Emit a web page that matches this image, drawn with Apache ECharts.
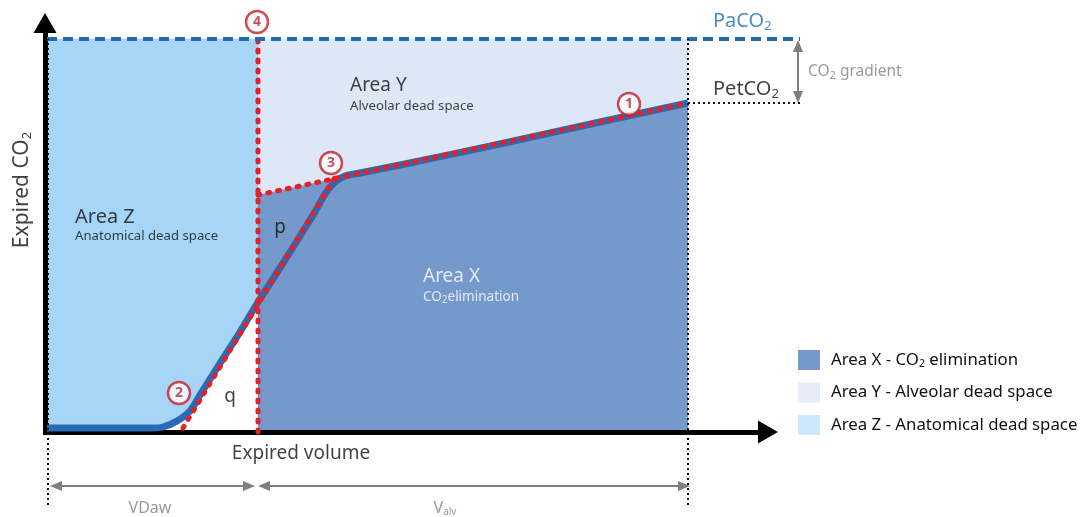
<!DOCTYPE html>
<html><head><meta charset="utf-8">
<script src="https://cdn.jsdelivr.net/npm/echarts@6/dist/echarts.min.js"></script>
<style>html,body{margin:0;padding:0;background:#fff}#c{width:1083px;height:517px}</style>
</head><body><div id="c"></div>
<script>
// ---- data (volume / CO2 in drawing units) ----
const curveVolume = [0, 60, 105, 116, 130, 143, 153, 170, 193, 211, 233, 253, 268, 278, 288, 298, 313, 353, 453, 553, 641];
const curveCO2    = [4, 4, 4, 5, 11, 21, 37, 64, 100, 130, 164, 196, 220, 238, 250, 256, 259, 267, 288, 310, 329];
const vdAirway = 211;        // end of anatomical dead space (VDaw)
const expEnd = 641;          // end of expiration
const paCO2 = 393;           // arterial CO2 level
const petCO2 = 329;          // end-tidal CO2 level
const phase3Start = 237;     // phase III back-extrapolated to VDaw
const phase2Volume = [136, 290];
const phase2CO2 = [4, 258];
const markerNumbers = ['1', '2', '3', '4'];
const markerVolume = [582, 132, 284, 210];
const markerCO2 = [328, 39, 269, 410];
const legendNames = ['Area X - CO2 elimination', 'Area Y - Alveolar dead space', 'Area Z - Anatomical dead space'];

const FONT = "'Noto Sans', 'Open Sans', sans-serif";
const BLUE = '#1f6db5', RED = '#e0232b', GRAY = '#7f7f7f', INK = '#111111';
const curve = curveVolume.map((v, i) => [v, curveCO2[i]]);
const curveLeft = curve.filter(p => p[0] <= vdAirway);

const base = {type: 'line', symbol: 'none', silent: true, animation: false};
const area = (name, data, color, z) => Object.assign({}, base, {
  name, data, z, lineStyle: {width: 0, opacity: 0}, itemStyle: {color}, areaStyle: {color, opacity: 1}
});
const line = (data, style, z) => Object.assign({}, base, {data, z, lineStyle: style});

function sub(color, size, pad) { return {s: {fontSize: size, color: color, fontFamily: FONT, padding: [pad, 0, 0, 0]}}; }
function L(x, y, fmt, o) {
  return {value: [x, y], label: Object.assign({formatter: fmt, fontFamily: FONT, align: 'left', verticalAlign: 'middle'}, o)};
}
const labelItems = [
  L(666, 411, 'PaCO{s|2}', {fontSize: 20, color: BLUE, rich: sub(BLUE, 13, 10)}),
  L(666, 343, 'PetCO{s|2}', {fontSize: 20, color: INK, rich: sub(INK, 13, 10)}),
  L(761, 360, 'CO{s|2} gradient', {fontSize: 15.5, color: GRAY, rich: sub(GRAY, 11, 7)}),
  L(303, 346, 'Area Y', {fontSize: 19, color: INK}),
  L(303, 326, 'Alveolar dead space', {fontSize: 13.2, color: INK}),
  L(28, 215, 'Area Z', {fontSize: 20, color: INK}),
  L(28, 196, 'Anatomical dead space', {fontSize: 13.2, color: INK}),
  L(233, 204, 'p', {fontSize: 19, color: INK, align: 'center'}),
  L(183, 35, 'q', {fontSize: 19, color: INK, align: 'center'}),
  L(376, 155, 'Area X', {fontSize: 19, color: '#fff'}),
  L(376, 135, 'CO{s|2}elimination', {fontSize: 13.5, color: '#fff', rich: sub('#fff', 10, 6)}),
  L(-25, 242, 'Expired CO{s|2}', {fontSize: 21, color: INK, align: 'center', rotate: 90, rich: sub(INK, 13, 10)}),
  L(254, -22, 'Expired volume', {fontSize: 19, color: INK, align: 'center'}),
  L(103, -76, 'VDaw', {fontSize: 16, color: GRAY, align: 'center'}),
  L(398, -76, 'V{s|alv}', {fontSize: 16, color: GRAY, align: 'center', rich: sub(GRAY, 10, 9)})
];

const legendColors = {};
legendColors[legendNames[0]] = '#7599cb';
legendColors[legendNames[1]] = '#e6ecf8';
legendColors[legendNames[2]] = '#cde8fb';

const option = {
  animation: false,
  grid: {left: 0, right: 0, top: 0, bottom: 0},
  xAxis: {type: 'value', min: -47, max: 1036, show: false},
  yAxis: {type: 'value', min: -85, max: 432, show: false},
  legend: {
    orient: 'vertical', left: 798, top: 350, padding: 0, itemWidth: 22, itemHeight: 20, itemGap: 12.5,
    icon: 'rect', selectedMode: false,
    data: legendNames.map(n => ({name: n, itemStyle: {color: legendColors[n]}})),
    formatter: n => n === legendNames[0] ? '{a|Area X - CO}{s|2}{b| elimination}' : '{a|' + n + '}',
    textStyle: {
      fontFamily: FONT, fontSize: 16.8, color: INK,
      rich: {
        a: {fontFamily: FONT, fontSize: 16.8, color: INK, padding: [0, 0, 0, 6]},
        b: {fontFamily: FONT, fontSize: 16.8, color: INK},
        s: {fontFamily: FONT, fontSize: 10.5, color: INK, padding: [8, 0, 0, 0]}
      }
    }
  },
  series: [
    area(legendNames[2], [[0, paCO2], [vdAirway, paCO2]], '#a6d5f8', 1),
    Object.assign(area('under', curveLeft, '#ffffff', 2), {smooth: 0.25}),
    area(legendNames[1], [[vdAirway, paCO2], [expEnd, paCO2]], '#dee7f6', 2),
    area(legendNames[0], [[vdAirway, phase3Start], [expEnd, petCO2]], '#7599cb', 3),
    Object.assign(line(curve, {color: '#2a6cb3', width: 7, cap: 'butt', join: 'round'}, 5), {smooth: 0.25}),
    line([[vdAirway, 0], [vdAirway, paCO2]], {color: RED, width: 5, type: [2, 8], cap: 'round'}, 6),
    line(phase2Volume.map((v, i) => [v, phase2CO2[i]]), {color: RED, width: 5, type: [2, 8], cap: 'round'}, 6),
    line([[vdAirway, phase3Start], [expEnd, petCO2]], {color: RED, width: 5, type: [2, 8], cap: 'round'}, 6),
    line([[0, paCO2], [753, paCO2]], {color: BLUE, width: 4, type: [10, 6]}, 7),
    line([[1, -73], [1, paCO2]], {color: '#111', width: 2, type: [2, 3]}, 7),
    line([[expEnd, -73], [expEnd, paCO2]], {color: '#111', width: 2, type: [2, 3]}, 7),
    line([[expEnd, petCO2], [753, petCO2]], {color: '#111', width: 2, type: [2, 3]}, 7),
    Object.assign({}, base, {
      data: [], z: 8,
      markLine: {
        silent: true, animation: false, symbol: ['none', 'triangle'], symbolSize: [23, 20],
        label: {show: false}, lineStyle: {color: '#000', width: 5, type: 'solid'},
        data: [
          [{coord: [-2, -2]}, {coord: [-2, 409]}],
          [{coord: [-4, 0]}, {coord: [721, 0]}]
        ]
      }
    }),
    Object.assign({}, base, {
      data: [], z: 8,
      markLine: {
        silent: true, animation: false, symbol: ['triangle', 'triangle'], symbolSize: [10, 12],
        label: {show: false}, lineStyle: {color: GRAY, width: 2, type: 'solid'},
        data: [
          [{coord: [9, -54]}, {coord: [202, -54]}],
          [{coord: [217, -54]}, {coord: [637, -54]}],
          [{coord: [751, 386]}, {coord: [751, 335]}]
        ]
      }
    }),
    {
      type: 'scatter', silent: true, z: 9, symbol: 'circle', symbolSize: 22,
      itemStyle: {color: '#fff', borderColor: '#c0202a', borderWidth: 2.5},
      label: {show: true, position: 'inside', formatter: p => p.value[2], fontFamily: FONT, fontSize: 14, fontWeight: 'bold', color: '#c0202a'},
      data: markerNumbers.map((n, i) => [markerVolume[i], markerCO2[i], n])
    },
    {
      type: 'scatter', silent: true, z: 10, symbolSize: 1, itemStyle: {color: 'rgba(0,0,0,0)'},
      label: {show: true, position: 'inside'},
      data: labelItems
    }
  ]
};
const chart = echarts.init(document.getElementById('c'), null, {renderer: 'canvas'});
chart.setOption(option);
</script>
</body></html>
